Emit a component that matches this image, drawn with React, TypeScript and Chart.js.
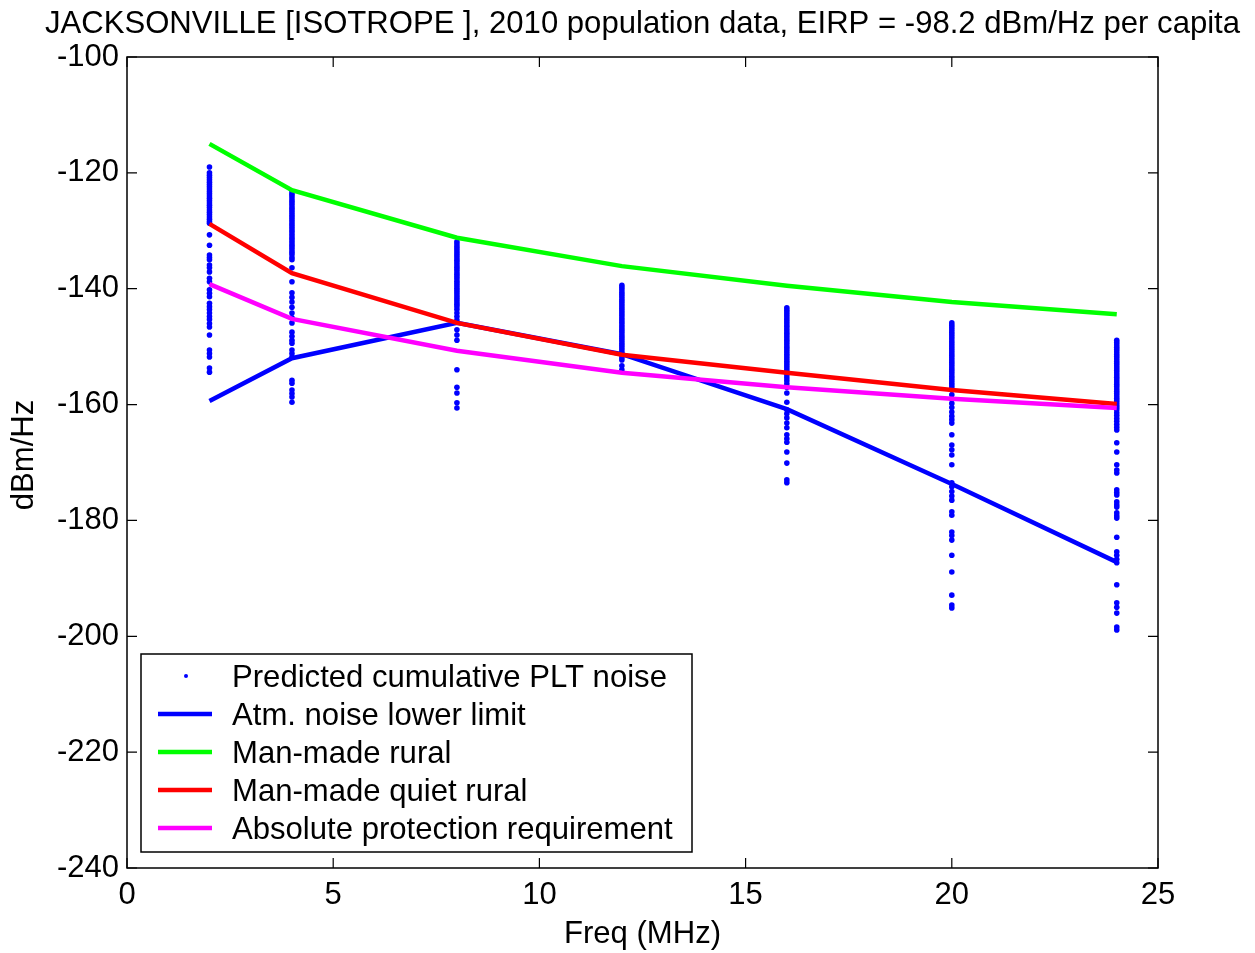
import React, { useEffect, useRef } from "react";
import { Chart, registerables } from "chart.js";
Chart.register(...registerables);

const TITLE = "JACKSONVILLE [ISOTROPE ], 2010 population data, EIRP = -98.2 dBm/Hz per capita";
const X_LABEL = "Freq (MHz)";
const Y_LABEL = "dBm/Hz";
const X_TICKS = [0, 5, 10, 15, 20, 25];
const Y_TICKS = [-240, -220, -200, -180, -160, -140, -120, -100];

const FREQS = [2, 4, 8, 12, 16, 20, 24];
const ATM_LOWER = [-159.4, -152.0, -145.9, -151.3, -160.8, -173.7, -187.2];
const MM_RURAL = [-115.0, -123.0, -131.2, -136.1, -139.5, -142.3, -144.4];
const MM_QUIET = [-128.8, -137.3, -145.9, -151.4, -154.5, -157.5, -159.9];
const ABS_PROT = [-139.2, -145.2, -150.7, -154.5, -157.0, -159.0, -160.6];

const PLT_F2 = [-119.0, -120.0, -120.4, -120.8, -121.2, -121.6, -122.0, -122.4, -122.8, -123.2, -123.6, -124.0, -124.4, -124.8, -125.2, -125.6, -126.0, -126.4, -126.8, -127.2, -127.6, -128.0, -128.4, -128.7, -130.7, -132.5, -134.2, -134.6, -135.0, -135.9, -136.4, -137.1, -138.2, -138.8, -140.2, -140.8, -141.4, -142.5, -143.1, -143.6, -144.2, -144.8, -145.3, -146.0, -146.6, -148.0, -150.6, -151.2, -151.8, -153.7, -154.4];
const PLT_F4 = [-123.3, -123.7, -124.1, -124.5, -124.9, -125.3, -125.7, -126.1, -126.5, -126.9, -127.3, -127.7, -128.1, -128.5, -128.9, -129.3, -129.7, -130.1, -130.5, -130.9, -131.3, -131.7, -132.1, -132.5, -132.9, -133.3, -133.7, -134.1, -134.6, -135.0, -136.4, -138.8, -140.7, -141.5, -142.3, -143.2, -144.2, -145.0, -145.9, -147.5, -148.2, -148.9, -149.4, -150.6, -151.2, -151.8, -155.8, -156.3, -157.5, -158.1, -158.7, -159.6];
const PLT_F8 = [-131.9, -132.3, -132.7, -133.1, -133.5, -133.9, -134.3, -134.7, -135.1, -135.5, -135.9, -136.3, -136.7, -137.1, -137.5, -137.9, -138.3, -138.7, -139.1, -139.5, -139.9, -140.3, -140.7, -141.1, -141.5, -141.9, -142.3, -142.7, -143.1, -143.6, -144.2, -144.8, -145.4, -147.1, -148.0, -148.9, -154.0, -157.0, -158.0, -159.7, -160.6];
const PLT_F12 = [-139.4, -139.8, -140.2, -140.6, -141.0, -141.4, -141.8, -142.2, -142.6, -143.0, -143.4, -143.8, -144.2, -144.6, -145.0, -145.4, -145.8, -146.2, -146.6, -147.0, -147.4, -147.8, -148.2, -148.6, -149.0, -149.4, -149.8, -150.2, -150.6, -151.0, -151.4, -151.9, -152.3, -153.3, -154.0];
const PLT_F16 = [-143.3, -143.7, -144.1, -144.5, -144.9, -145.3, -145.7, -146.1, -146.5, -146.9, -147.3, -147.7, -148.1, -148.5, -148.9, -149.3, -149.7, -150.1, -150.5, -150.9, -151.3, -151.7, -152.1, -152.5, -152.9, -153.3, -153.7, -154.1, -154.5, -154.9, -155.4, -155.9, -156.4, -157.0, -158.0, -159.6, -160.9, -161.6, -162.3, -163.2, -164.0, -165.2, -165.9, -166.5, -168.2, -170.1, -173.0, -173.5];
const PLT_F20 = [-145.9, -146.3, -146.7, -147.1, -147.5, -147.9, -148.3, -148.7, -149.1, -149.5, -149.9, -150.3, -150.7, -151.1, -151.5, -151.9, -152.3, -152.7, -153.1, -153.5, -153.9, -154.3, -154.7, -155.1, -155.5, -155.9, -156.3, -156.7, -157.1, -157.5, -158.3, -159.0, -159.8, -160.5, -161.3, -162.0, -162.6, -163.2, -165.2, -167.0, -167.8, -168.7, -170.4, -173.5, -174.2, -175.0, -175.8, -176.5, -178.5, -179.1, -182.0, -182.6, -183.4, -186.0, -188.9, -192.9, -194.6, -195.1];
const PLT_F24 = [-148.9, -149.3, -149.7, -150.1, -150.5, -150.9, -151.3, -151.7, -152.1, -152.5, -152.9, -153.3, -153.7, -154.1, -154.5, -154.9, -155.3, -155.7, -156.1, -156.5, -156.9, -157.3, -157.7, -158.1, -158.5, -158.9, -159.3, -159.7, -160.1, -160.5, -160.9, -161.4, -161.9, -162.4, -162.9, -163.4, -163.9, -164.4, -166.6, -168.2, -170.4, -171.3, -171.8, -174.7, -175.2, -175.6, -176.8, -177.3, -177.7, -178.7, -179.2, -179.6, -182.9, -185.4, -186.0, -186.7, -187.3, -191.1, -194.2, -195.0, -196.0, -198.4, -198.9];
const PLT_COLUMNS = [PLT_F2, PLT_F4, PLT_F8, PLT_F12, PLT_F16, PLT_F20, PLT_F24];

const LABELS = [
  "Predicted cumulative PLT noise",
  "Atm. noise lower limit",
  "Man-made rural",
  "Man-made quiet rural",
  "Absolute protection requirement",
];
const FONT = "'Liberation Sans', Arial, Helvetica, sans-serif";

const overlayPlugin = {
  id: "matlabOverlay",
  afterDraw(chart: any) {
    const { ctx, chartArea } = chart;
    const { left, right, top, bottom } = chartArea;
    const xs = chart.scales.x;
    const ys = chart.scales.y;
    ctx.save();
    ctx.strokeStyle = "#000";
    ctx.lineWidth = 1.5;
    ctx.strokeRect(left, top, right - left, bottom - top);
    ctx.lineWidth = 1.2;
    const TL = 10;
    ctx.beginPath();
    X_TICKS.forEach((v) => {
      const px = xs.getPixelForValue(v);
      ctx.moveTo(px, bottom);
      ctx.lineTo(px, bottom - TL);
      ctx.moveTo(px, top);
      ctx.lineTo(px, top + TL);
    });
    Y_TICKS.forEach((v) => {
      const py = ys.getPixelForValue(v);
      ctx.moveTo(left, py);
      ctx.lineTo(left + TL, py);
      ctx.moveTo(right, py);
      ctx.lineTo(right - TL, py);
    });
    ctx.stroke();

    ctx.fillStyle = "#000";
    ctx.font = `31.1px ${FONT}`;
    ctx.textAlign = "center";
    ctx.textBaseline = "alphabetic";
    ctx.fillText(TITLE, (left + right) / 2, 33);
    ctx.fillText(X_LABEL, (left + right) / 2, 943);
    ctx.save();
    ctx.translate(33, 455);
    ctx.rotate(-Math.PI / 2);
    ctx.fillText(Y_LABEL, 0, 0);
    ctx.restore();

    const lx = 141, ly = 654, lw = 551, lh = 198;
    ctx.fillStyle = "#fff";
    ctx.fillRect(lx, ly, lw, lh);
    ctx.strokeStyle = "#000";
    ctx.lineWidth = 1.5;
    ctx.strokeRect(lx, ly, lw, lh);
    chart.data.datasets.forEach((ds: any, i: number) => {
      const cy = 676 + i * 38;
      if (i === 0) {
        ctx.fillStyle = ds.backgroundColor;
        ctx.beginPath();
        ctx.arc(186, cy, 2, 0, Math.PI * 2);
        ctx.fill();
      } else {
        ctx.strokeStyle = ds.borderColor;
        ctx.lineWidth = 4.5;
        ctx.beginPath();
        ctx.moveTo(158, cy);
        ctx.lineTo(212, cy);
        ctx.stroke();
      }
      ctx.fillStyle = "#000";
      ctx.textAlign = "left";
      ctx.font = `31.1px ${FONT}`;
      ctx.fillText(ds.label, 232, cy + 11);
    });
    ctx.restore();
  },
};

export default function App() {
  const ref = useRef<HTMLCanvasElement | null>(null);
  useEffect(() => {
    if (!ref.current) return;
    const points: { x: number; y: number }[] = [];
    FREQS.forEach((f, i) => PLT_COLUMNS[i].forEach((v) => points.push({ x: f, y: v })));
    const line = (label: string, vals: number[], color: string, order: number) => ({
      type: "line" as const,
      label,
      data: FREQS.map((f, i) => ({ x: f, y: vals[i] })),
      borderColor: color,
      backgroundColor: color,
      borderWidth: 4.5,
      pointRadius: 0,
      tension: 0,
      fill: false,
      order,
    });
    const chart = new Chart(ref.current, {
      type: "scatter",
      data: {
        datasets: [
          {
            label: LABELS[0],
            data: points,
            backgroundColor: "#0000ff",
            borderWidth: 0,
            pointRadius: 2.8,
            showLine: false,
            order: 5,
          } as any,
          line(LABELS[1], ATM_LOWER, "#0000ff", 4),
          line(LABELS[2], MM_RURAL, "#00ff00", 3),
          line(LABELS[3], MM_QUIET, "#ff0000", 2),
          line(LABELS[4], ABS_PROT, "#ff00ff", 1),
        ],
      },
      options: {
        animation: false,
        responsive: false,
        maintainAspectRatio: false,
        events: [],
        layout: { padding: { left: 0, top: 57, right: 97, bottom: 0 } },
        plugins: { legend: { display: false }, title: { display: false }, tooltip: { enabled: false } },
        scales: {
          x: {
            type: "linear",
            min: 0,
            max: 25,
            grid: { display: false },
            border: { display: false },
            afterBuildTicks: (s: any) => {
              s.ticks = X_TICKS.map((v) => ({ value: v }));
            },
            afterFit: (s: any) => {
              s.height = 85;
            },
            ticks: {
              color: "#000",
              font: { family: FONT, size: 31 },
              padding: 1,
              maxRotation: 0,
              autoSkip: false,
              callback: (v: any) => String(v),
            },
          },
          y: {
            type: "linear",
            min: -240,
            max: -100,
            grid: { display: false },
            border: { display: false },
            afterBuildTicks: (s: any) => {
              s.ticks = Y_TICKS.map((v) => ({ value: v }));
            },
            afterFit: (s: any) => {
              s.width = 127;
            },
            ticks: {
              color: "#000",
              font: { family: FONT, size: 31 },
              padding: 0,
              autoSkip: false,
              callback: (v: any) => String(v),
            },
          },
        },
      },
      plugins: [overlayPlugin],
    } as any);
    return () => chart.destroy();
  }, []);
  return (
    <div style={{ position: "absolute", left: 0, top: 0, width: 1255, height: 953, background: "#fff" }}>
      <canvas ref={ref} width={1255} height={953} style={{ display: "block" }} />
    </div>
  );
}
